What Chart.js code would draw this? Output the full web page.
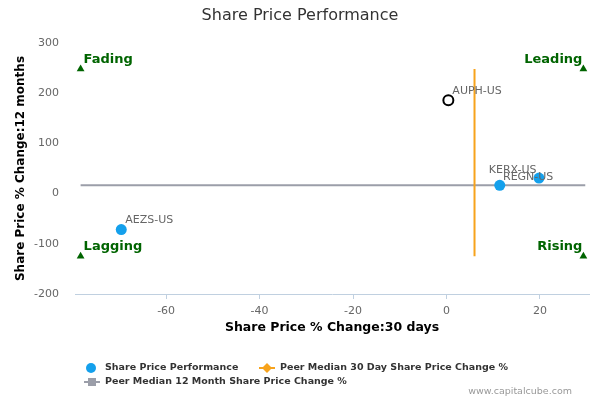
<!DOCTYPE html>
<html>
<head>
<meta charset="utf-8">
<script src="https://cdn.jsdelivr.net/npm/chart.js@4"></script>
<style>
  html, body { margin: 0; padding: 0; background: #fff; }
  #wrap { width: 600px; height: 400px; }
</style>
</head>
<body>
<div id="wrap"><canvas id="perfChart"></canvas></div>
<script>
const companies = ['AEZS-US', 'AUPH-US', 'KERX-US', 'REGN-US'];
const change30d = [-69.6, 0.4, 11.4, 19.8];
const change12m = [-71.6, 186, 16.5, 31];
const subject = 'AUPH-US';

const median30d = 6.0;
const median12m = 16.5;

const quadrantNames = ['Fading', 'Leading', 'Lagging', 'Rising'];
const quadrantX = [-78.3, 29.3, -78.3, 29.3];
const quadrantY = [248, 248, -125, -125];

const xTicks = [-60, -40, -20, 0, 20];
const yTicks = [-200, -100, 0, 100, 200, 300];

const font = 'DejaVu Sans';
const blue = '#14a0ec';
const orange = '#f7a31c';
const grey = '#9b9ea9';
const green = '#006400';

let points = [];
for (let i = 0; i < companies.length; i++) {
    points.push({ x: change30d[i], y: change12m[i], name: companies[i] })
}

let quads = [];
for (let i = 0; i < quadrantNames.length; i++) {
    quads.push({ x: quadrantX[i], y: quadrantY[i], name: quadrantNames[i] })
}

const isSubject = c => c.raw && c.raw.name === subject;

// label offsets (px) so overlapping names sit like in the original
const labelShift = { 'KERX-US': [-11, -10], 'REGN-US': [-36, 5] };

const labelsPlugin = {
    id: 'extra_labels',
    afterDatasetsDraw: (chart) => {
        const ctx = chart.ctx;
        const xs = chart.scales.x, ys = chart.scales.y;
        ctx.save();
        // point labels
        ctx.font = '11px "' + font + '"';
        ctx.fillStyle = '#666';
        ctx.textBaseline = 'bottom';
        ctx.textAlign = 'left';
        points.forEach(p => {
            const px = xs.getPixelForValue(p.x), py = ys.getPixelForValue(p.y);
            const [dx, dy] = labelShift[p.name] || [4, -4];
            ctx.fillText(p.name, px + dx, py + dy);
        });
        // quadrant labels
        ctx.font = 'bold 13px "' + font + '"';
        ctx.fillStyle = green;
        quads.forEach(q => {
            const px = xs.getPixelForValue(q.x), py = ys.getPixelForValue(q.y);
            if (q.x < 0) {
                ctx.textAlign = 'left';
                ctx.fillText(q.name, px + 3, py - 3);
            } else {
                ctx.textAlign = 'right';
                ctx.fillText(q.name, px - 1, py - 3);
            }
        });
        ctx.restore();
    },
    afterDraw: (chart) => {
        const ctx = chart.ctx;
        ctx.save();
        // title
        ctx.font = '16px "' + font + '"';
        ctx.fillStyle = '#333';
        ctx.textAlign = 'center';
        ctx.textBaseline = 'middle';
        ctx.fillText('Share Price Performance', 300, 16);

        // legend
        ctx.font = 'bold 9.5px "' + font + '"';
        ctx.textAlign = 'left';
        ctx.fillStyle = '#333';
        ctx.fillText('Share Price Performance', 105, 368);
        ctx.fillText('Peer Median 30 Day Share Price Change %', 280, 368);
        ctx.fillText('Peer Median 12 Month Share Price Change %', 105, 382);

        ctx.beginPath();
        ctx.arc(91, 368, 5, 0, Math.PI * 2);
        ctx.fillStyle = blue;
        ctx.fill();

        ctx.strokeStyle = orange;
        ctx.lineWidth = 2;
        ctx.beginPath();
        ctx.moveTo(259, 368); ctx.lineTo(275, 368);
        ctx.stroke();
        ctx.fillStyle = orange;
        ctx.beginPath();
        ctx.moveTo(267, 363); ctx.lineTo(272, 368); ctx.lineTo(267, 373); ctx.lineTo(262, 368);
        ctx.closePath();
        ctx.fill();

        ctx.strokeStyle = grey;
        ctx.beginPath();
        ctx.moveTo(84, 382); ctx.lineTo(100, 382);
        ctx.stroke();
        ctx.fillStyle = grey;
        ctx.fillRect(88, 378, 8, 8);

        // credit
        ctx.font = '9.5px "' + font + '"';
        ctx.fillStyle = '#999';
        ctx.textAlign = 'right';
        ctx.fillText('www.capitalcube.com', 572, 392);
        ctx.restore();
    }
};

const data = {
    datasets: [{
        label: 'Share Price Performance',
        data: points,
        backgroundColor: c => isSubject(c) ? '#fff' : blue,
        borderColor: c => isSubject(c) ? '#000' : blue,
        borderWidth: c => isSubject(c) ? 2 : 0,
        pointRadius: c => isSubject(c) ? 5 : 5.5,
        order: 0
    }, {
        label: 'Peer Median 30 Day Share Price Change %',
        type: 'line',
        data: [{ x: median30d, y: quadrantY[0] }, { x: median30d, y: quadrantY[2] }],
        borderColor: orange,
        borderWidth: 2,
        pointRadius: 0,
        order: 2
    }, {
        label: 'Peer Median 12 Month Share Price Change %',
        type: 'line',
        data: [{ x: quadrantX[0], y: median12m }, { x: quadrantX[1] + 0.4, y: median12m }],
        borderColor: grey,
        borderWidth: 2,
        pointRadius: 0,
        order: 3
    }, {
        label: 'quadrants',
        data: quads,
        pointStyle: 'triangle',
        backgroundColor: green,
        borderColor: green,
        borderWidth: 0,
        pointRadius: 4.5,
        order: 1
    }]
};

const config = {
    type: 'scatter',
    data: data,
    options: {
        responsive: true,
        maintainAspectRatio: false,
        animation: false,
        layout: {
            padding: { top: 43, right: 11, bottom: 60, left: 0 }
        },
        plugins: {
            legend: { display: false },
            tooltip: { enabled: false }
        },
        scales: {
            x: {
                type: 'linear',
                min: -79.5,
                max: 30.5,
                afterBuildTicks: s => { s.ticks = xTicks.map(v => ({ value: v })) },
                afterFit: s => { s.height = 46 },
                border: { display: true, color: '#c0d0e0', width: 1 },
                grid: { display: true, drawOnChartArea: false, drawTicks: true, tickLength: 5, tickColor: '#c0d0e0' },
                ticks: { color: '#666', font: { family: font, size: 11 }, padding: 6 },
                title: {
                    display: true,
                    text: 'Share Price % Change:30 days',
                    color: '#000',
                    font: { family: font, size: 12.5, weight: 'bold' },
                    padding: { top: 0, bottom: 5 }
                }
            },
            y: {
                type: 'linear',
                min: -200,
                max: 300,
                afterBuildTicks: s => { s.ticks = yTicks.map(v => ({ value: v })) },
                afterFit: s => { s.width = 75 },
                border: { display: false },
                grid: { display: false },
                ticks: { color: '#666', font: { family: font, size: 11 }, padding: 8 },
                title: {
                    display: true,
                    text: 'Share Price % Change:12 months',
                    color: '#000',
                    font: { family: font, size: 12, weight: 'bold' },
                    padding: { top: 14, bottom: 0 }
                }
            }
        }
    },
    plugins: [labelsPlugin]
};

const perfChart = new Chart(document.getElementById('perfChart').getContext('2d'), config);
</script>
</body>
</html>
